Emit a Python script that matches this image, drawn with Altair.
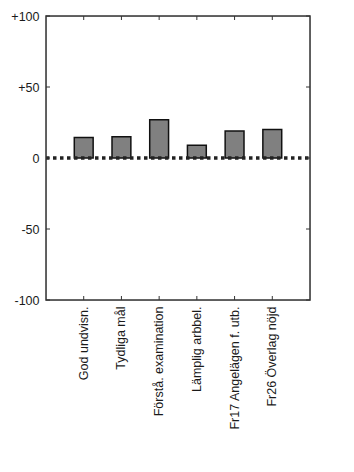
import altair as alt
import pandas as pd

categories = ["God undvisn.", "Tydliga mål", "Förstå. examination", "Lämplig arbbel.",
              "Fr17 Angelägen f. utb.", "Fr26 Överlag nöjd"]
values = [14.5, 15, 27, 9, 19, 20]
y_ticks = [-100, -50, 0, 50, 100]

W, H = 264, 284
df = pd.DataFrame({"cat": categories, "val": values})
ticks_df = pd.DataFrame({"t": y_ticks})
zero_df = pd.DataFrame({"z": [0]})

xscale = alt.Scale(domain=categories, paddingInner=0.5, paddingOuter=0.75)
yscale = alt.Scale(domain=[-100, 100], nice=False)

FONT = "Liberation Sans"
TXT = "#1a1a1a"

bars = alt.Chart(df).mark_bar(color="#808080", stroke="#111", strokeWidth=1.5).encode(
    x=alt.X("cat:N", sort=None, scale=xscale, title=None,
            axis=alt.Axis(labelAngle=-90, ticks=False, domain=False, labelPadding=6,
                          labelFont=FONT, labelFontSize=12.5, labelColor=TXT)),
    y=alt.Y("val:Q", scale=yscale, title=None,
            axis=alt.Axis(values=y_ticks, ticks=False, domain=False, grid=False, labelPadding=7,
                          labelFont=FONT, labelFontSize=12.5, labelColor=TXT,
                          labelExpr="datum.value > 0 ? '+' + datum.value : '' + datum.value")),
)

zero = alt.Chart(zero_df).mark_rule(color="#222", strokeWidth=3.5, strokeDash=[3.5, 3.5]).encode(
    y=alt.Y("z:Q", scale=yscale), x=alt.value(0), x2=alt.value(W)
)

ytl = alt.Chart(ticks_df).mark_rule(color="#333", strokeWidth=1).encode(
    y=alt.Y("t:Q", scale=yscale), x=alt.value(0), x2=alt.value(4)
)
ytr = alt.Chart(ticks_df).mark_rule(color="#333", strokeWidth=1).encode(
    y=alt.Y("t:Q", scale=yscale), x=alt.value(W - 4), x2=alt.value(W)
)
xtb = alt.Chart(df).mark_rule(color="#333", strokeWidth=1).encode(
    x=alt.X("cat:N", sort=None, scale=xscale), y=alt.value(H - 4), y2=alt.value(H)
)
xtt = alt.Chart(df).mark_rule(color="#333", strokeWidth=1).encode(
    x=alt.X("cat:N", sort=None, scale=xscale), y=alt.value(0), y2=alt.value(4)
)
frame = alt.Chart(zero_df).mark_rect(fill=None, stroke="#333", strokeWidth=1.5).encode(
    x=alt.value(0), x2=alt.value(W), y=alt.value(0), y2=alt.value(H)
)

chart = alt.layer(bars, zero, ytl, ytr, xtb, xtt, frame).properties(
    width=W, height=H,
    autosize=alt.AutoSizeParams(type="none"),
    padding={"left": 46, "top": 16, "right": 44, "bottom": 172},
).configure_view(stroke=None).configure(background="white")

chart.save("out.html", embed_options={"renderer": "svg", "actions": False})
